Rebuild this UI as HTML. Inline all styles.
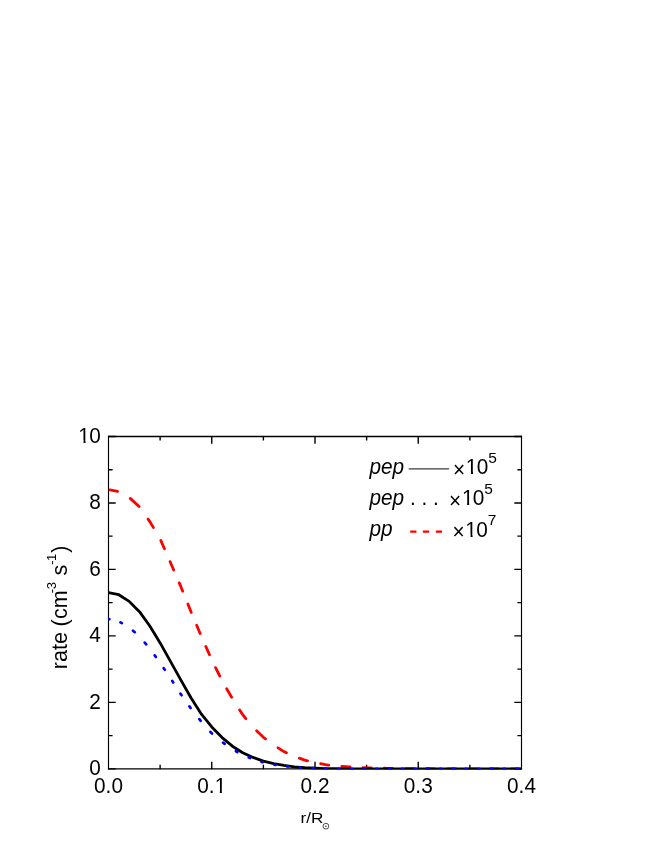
<!DOCTYPE html>
<html><head><meta charset="utf-8"><title>rate</title>
<style>html,body{margin:0;padding:0;background:#fff;}svg text{font-family:"Liberation Sans",sans-serif;}body{width:654px;height:846px;position:relative;overflow:hidden;font-family:"Liberation Sans",sans-serif;}</style></head>
<body>
<svg width="654" height="846" viewBox="0 0 654 846" style="position:absolute;left:0;top:0;will-change:transform">
<defs><clipPath id="c"><rect x="107.80" y="435.80" width="414.40" height="333.75"/></clipPath></defs>
<path d="M108.50,435.82V769.57 M521.50,435.82V769.57" stroke="#000" stroke-width="1.15" fill="none"/>
<path d="M107.92,436.50H522.08 M107.92,768.90H522.08" stroke="#000" stroke-width="1.35" fill="none"/>
<path d="M108.50,768.90h7.20 M521.50,768.90h-7.20 M108.50,735.66h4.10 M521.50,735.66h-4.10 M108.50,702.42h7.20 M521.50,702.42h-7.20 M108.50,669.18h4.10 M521.50,669.18h-4.10 M108.50,635.94h7.20 M521.50,635.94h-7.20 M108.50,602.70h4.10 M521.50,602.70h-4.10 M108.50,569.46h7.20 M521.50,569.46h-7.20 M108.50,536.22h4.10 M521.50,536.22h-4.10 M108.50,502.98h7.20 M521.50,502.98h-7.20 M108.50,469.74h4.10 M521.50,469.74h-4.10 M108.50,436.50h7.20 M521.50,436.50h-7.20" stroke="#000" stroke-width="1.3" fill="none"/>
<path d="M160.12,769.20v-4.40 M160.12,435.90v4.70 M211.75,769.20v-7.50 M211.75,435.90v7.80 M263.38,769.20v-4.40 M263.38,435.90v4.70 M315.00,769.20v-7.50 M315.00,435.90v7.80 M366.62,769.20v-4.40 M366.62,435.90v4.70 M418.25,769.20v-7.50 M418.25,435.90v7.80 M469.88,769.20v-4.40 M469.88,435.90v4.70" stroke="#000" stroke-width="1.4" fill="none"/>
<g clip-path="url(#c)" fill="none" stroke-linejoin="round">
<path d="M109.87,489.95 L117.59,491.44 M130.27,498.38 L139.06,506.58 M148.03,519.09 L149.80,521.59 L153.41,527.64 M160.80,540.43 L164.45,548.76 M170.08,561.63 L170.45,562.48 L173.68,569.96 M179.23,582.83 L180.78,586.41 L182.68,591.15 M187.89,604.04 L191.10,612.01 L191.25,612.35 M196.65,625.23 L200.14,633.55 M205.78,646.42 L209.48,654.76 M215.56,667.60 L219.70,675.99 M226.69,688.75 L231.61,697.23 M239.65,709.92 L242.72,714.72 L245.86,718.56 M256.65,730.83 L263.38,737.32 L265.43,738.87 M278.03,747.83 L284.02,751.62 L286.47,752.75 M299.36,758.18 L304.67,760.06 L307.58,760.77 M320.62,763.67 L325.32,764.58 L328.76,765.02 M341.84,766.41 L345.98,766.74 L349.95,767.00 M363.04,767.66 L366.62,767.80 L371.14,767.93 M384.24,768.27 L387.27,768.33 L392.34,768.42 M405.44,768.60 L407.92,768.63 L413.54,768.69 M426.64,768.76 L428.57,768.77 L434.74,768.79 M447.84,768.80 L449.23,768.80 L455.94,768.82 M469.04,768.83 L469.88,768.83 L477.14,768.83 M490.24,768.87 L490.52,768.87 L498.34,768.87 M511.44,768.87 L519.54,768.87" stroke="#ff0000" stroke-width="2.8" stroke-linecap="round"/>
<path d="M108.50,592.73 L118.83,594.72 L129.15,601.37 L139.47,611.67 L149.80,625.97 L160.12,642.92 L170.45,661.37 L180.78,679.82 L191.10,698.03 L201.43,714.15 L211.75,726.95 L222.07,737.59 L232.40,746.20 L242.72,752.71 L253.05,757.43 L263.38,761.09 L273.70,763.58 L284.02,765.41 L294.35,766.91 L304.67,767.74 L315.00,768.24 L325.32,768.57 L335.65,768.73 L345.98,768.90 L356.30,768.90 L366.62,768.90 L376.95,768.90 L387.27,768.90 L397.60,768.90 L407.92,768.90 L418.25,768.90 L428.57,768.90 L438.90,768.90 L449.23,768.90 L459.55,768.90 L469.88,768.90 L480.20,768.90 L490.52,768.90 L500.85,768.90 L511.17,768.90 L521.50,768.90" stroke="#000" stroke-width="2.8"/>
<path d="M109.35,619.19 L109.45,619.22 M120.43,622.38 L121.87,623.20 M133.02,630.66 L134.78,632.19 M144.77,642.58 L146.23,644.31 M154.73,655.39 L155.89,657.00 M163.71,668.17 L164.76,669.73 M172.25,680.93 L173.24,682.46 M180.50,693.68 L180.78,694.11 L181.58,695.24 M189.45,706.40 L190.59,708.01 M199.36,719.10 L200.71,720.80 M210.40,731.81 L211.75,733.33 L211.98,733.52 M223.06,742.67 L224.66,743.81 M235.90,751.20 L237.33,751.99 M248.71,757.44 L250.02,757.99 M261.51,761.85 L262.71,762.21 M274.29,764.66 L275.43,764.82 M287.06,766.33 L288.17,766.45 M299.81,767.47 L300.92,767.55 M312.56,768.13 L313.67,768.18 M325.31,768.50 L325.32,768.50 L326.41,768.52 M338.06,768.75 L339.16,768.77 M350.81,768.90 L351.91,768.90 M363.56,768.90 L364.66,768.90 M376.31,768.90 L376.95,768.90 L377.41,768.90 M389.06,768.90 L390.16,768.90 M401.81,768.90 L402.91,768.90 M414.56,768.90 L415.66,768.90 M427.31,768.90 L428.41,768.90 M440.06,768.90 L441.16,768.90 M452.81,768.90 L453.91,768.90 M465.56,768.90 L466.66,768.90 M478.31,768.90 L479.41,768.90 M491.06,768.90 L492.16,768.90 M503.81,768.90 L504.91,768.90 M516.56,768.90 L517.66,768.90" stroke="#0000ff" stroke-width="2.7" stroke-linecap="round"/>
</g>
<g fill="#000">
<text transform="translate(108.50,792.80) scale(1,1.100)" font-size="20.8" text-anchor="middle" >0.0</text>
<text transform="translate(211.75,792.80) scale(1,1.100)" font-size="20.8" text-anchor="middle" >0.1</text>
<rect x="215.32" y="790.67" width="4.50" height="2.68" fill="#fff"/><rect x="221.86" y="790.67" width="4.48" height="2.68" fill="#fff"/>
<text transform="translate(315.00,792.80) scale(1,1.100)" font-size="20.8" text-anchor="middle" >0.2</text>
<text transform="translate(418.25,792.80) scale(1,1.100)" font-size="20.8" text-anchor="middle" >0.3</text>
<text transform="translate(521.50,792.80) scale(1,1.100)" font-size="20.8" text-anchor="middle" >0.4</text>
<text transform="translate(100.80,775.10) scale(1,1.100)" font-size="20.8" text-anchor="end" >0</text>
<text transform="translate(100.80,708.62) scale(1,1.100)" font-size="20.8" text-anchor="end" >2</text>
<text transform="translate(100.80,642.14) scale(1,1.100)" font-size="20.8" text-anchor="end" >4</text>
<text transform="translate(100.80,575.66) scale(1,1.100)" font-size="20.8" text-anchor="end" >6</text>
<text transform="translate(100.80,509.18) scale(1,1.100)" font-size="20.8" text-anchor="end" >8</text>
<text transform="translate(78.36,442.70) scale(1,1.100)" font-size="20.8" text-anchor="start" >1</text>
<rect x="79.05" y="440.54" width="4.50" height="2.71" fill="#fff"/><rect x="85.58" y="440.54" width="4.48" height="2.71" fill="#fff"/>
<text transform="translate(100.80,442.70) scale(1,1.100)" font-size="20.8" text-anchor="end" >0</text>
<text transform="translate(300.6,822.7) scale(1,0.878)" font-size="17.2">r/R</text>
<circle cx="325.9" cy="826.2" r="2.9" fill="none" stroke="#222" stroke-width="0.8"/><circle cx="325.9" cy="826.2" r="0.75" fill="#222"/>
<text transform="translate(67.00,669.20) rotate(-90) scale(1.01,1)" font-size="21.5">rate</text><text transform="translate(67.00,626.50) rotate(-90) scale(1,1)" font-size="21.5">(</text><text transform="translate(67.00,618.90) rotate(-90) scale(1,1)" font-size="21.5">cm</text><text transform="translate(55.60,593.30) rotate(-90) scale(1,1)" font-size="13.0">-</text><text transform="translate(55.60,589.30) rotate(-90) scale(1,1)" font-size="13.0">3</text><text transform="translate(67.00,575.50) rotate(-90) scale(1,1)" font-size="21.5">s</text><text transform="translate(55.60,564.70) rotate(-90) scale(1,1)" font-size="13.0">-</text><text transform="translate(55.60,560.90) rotate(-90) scale(1,1)" font-size="13.0">1</text><text transform="translate(67.00,552.70) rotate(-90) scale(1,1)" font-size="21.5">)</text>
<text transform="translate(369.50,473.80) scale(1,1.080)" font-size="20.8" text-anchor="start" font-style="italic">pep</text>
<text transform="translate(453.00,476.50) scale(1,1.080)" font-size="20.8" text-anchor="start" >&#xd7;</text>
<text transform="translate(465.85,473.80) scale(1,1.080)" font-size="20.8" text-anchor="start" >1</text>
<rect x="466.53" y="471.67" width="4.50" height="2.68" fill="#fff"/><rect x="473.07" y="471.67" width="4.48" height="2.68" fill="#fff"/>
<text transform="translate(476.72,473.80) scale(1,1.080)" font-size="20.8" text-anchor="start" >0</text>
<text x="488.20" y="462.50" font-size="15.5" >5</text>
<text transform="translate(369.50,504.80) scale(1,1.080)" font-size="20.8" text-anchor="start" font-style="italic">pep</text>
<text transform="translate(449.10,507.50) scale(1,1.080)" font-size="20.8" text-anchor="start" >&#xd7;</text>
<text transform="translate(461.95,504.80) scale(1,1.080)" font-size="20.8" text-anchor="start" >1</text>
<rect x="462.63" y="502.67" width="4.50" height="2.68" fill="#fff"/><rect x="469.17" y="502.67" width="4.48" height="2.68" fill="#fff"/>
<text transform="translate(472.82,504.80) scale(1,1.080)" font-size="20.8" text-anchor="start" >0</text>
<text x="484.30" y="493.50" font-size="15.5" >5</text>
<text transform="translate(369.50,536.20) scale(1,1.080)" font-size="20.8" text-anchor="start" font-style="italic">pp</text>
<text transform="translate(452.50,539.30) scale(1,1.080)" font-size="20.8" text-anchor="start" >&#xd7;</text>
<text transform="translate(465.35,536.60) scale(1,1.080)" font-size="20.8" text-anchor="start" >1</text>
<rect x="466.03" y="534.47" width="4.50" height="2.68" fill="#fff"/><rect x="472.57" y="534.47" width="4.48" height="2.68" fill="#fff"/>
<text transform="translate(476.22,536.60) scale(1,1.080)" font-size="20.8" text-anchor="start" >0</text>
<text x="487.70" y="524.70" font-size="15.5" >7</text>
<text transform="translate(410.00,504.80) scale(1,1.080)" font-size="20.8" text-anchor="start" >. . .</text>
<path d="M410.2,531.6h6.2 M422.9,531.6h6.2 M435.85,531.6h6.2" stroke="#ff0000" stroke-width="2.15" fill="none"/>
<path d="M408.7,468.8H449.1" stroke="#3a3a3a" stroke-width="1.2"/>
</g>
</svg>
</body></html>
